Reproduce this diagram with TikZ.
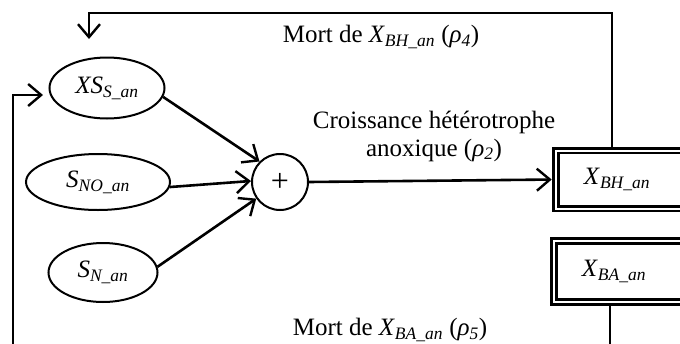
\documentclass[tikz,border=0pt]{standalone}
\usepackage{fontspec}
\setmainfont{Liberation Serif}
\usetikzlibrary{shapes.geometric,arrows.meta,calc}
\newcommand{\sub}[1]{\textsubscript{\textit{#1}}}
\begin{document}
\begin{tikzpicture}[x=1pt,y=-1pt,
  every node/.style={font=\fontsize{25}{28}\selectfont},
  wire/.style={line width=2.6pt},
  arr/.style={wire,-{Straight Barb[length=13pt,width=22pt,line width=2.4pt]}},
  ell/.style={ellipse,draw,line width=2pt,inner sep=0pt},
  dbox/.style={rectangle,draw,line width=2.6pt,double=white,double distance=2pt,inner sep=0pt},
  lbl/.style={inner sep=0pt,align=center}]
\clip (0,0) rectangle (680,343);
\fill[white] (0,0) rectangle (680,343);
% nodes
\node[ell,minimum width=115pt,minimum height=61pt] (XS) at (107,88) {\textit{XS}\sub{S\_an}};
\node[ell,minimum width=144pt,minimum height=56pt] (SNO) at (98,182) {\textit{S}\sub{NO\_an}};
\node[ell,minimum width=109pt,minimum height=59pt] (SN) at (103,272.5) {\textit{S}\sub{N\_an}};
\node[circle,draw,line width=2pt,minimum size=56pt,inner sep=0pt,font=\fontsize{32}{32}\selectfont] (plus) at (280,182) {+};
\node[dbox,minimum width=132pt,minimum height=58pt] (BH) at (622,179.5) {\textit{X}\sub{BH\_an}\hspace*{10pt}};
\node[dbox,minimum width=134pt,minimum height=61pt] (BA) at (621,271.5) {\textit{X}\sub{BA\_an}\hspace*{14pt}};
% labels
\node[lbl] (l4) at (381,37) {Mort de \textit{X}\sub{BH\_an} (\textit{ρ}\sub{4})};
\node[lbl] (l2) at (434,136) {Croissance hétérotrophe\\anoxique (\textit{ρ}\sub{2})};
\node[lbl] (l5) at (390,330) {Mort de \textit{X}\sub{BA\_an} (\textit{ρ}\sub{5})};
% coordinates
\coordinate (tr) at (612,13);
\coordinate (tl) at (89,13);
\coordinate (ta) at (89,39);
\coordinate (lb) at (13,345);
\coordinate (lc) at (13,95);
\coordinate (la) at (43,95);
\coordinate (rb) at (610,345);
% connectors
\draw[arr] (XS.-9) -- (plus.135);
\draw[arr] (SNO.-4) -- (plus.178);
\draw[arr] (SN.6) -- (plus.215);
\draw[arr,shorten >=3pt] (plus.east) -- (BH.west);
\draw[arr] (BH.north -| tr) -- (tr) -- (tl) -- (ta);
\draw[arr] (lb) -- (lc) -- (la);
\draw[wire] (BA.south -| rb) -- (rb);
\end{tikzpicture}
\end{document}
